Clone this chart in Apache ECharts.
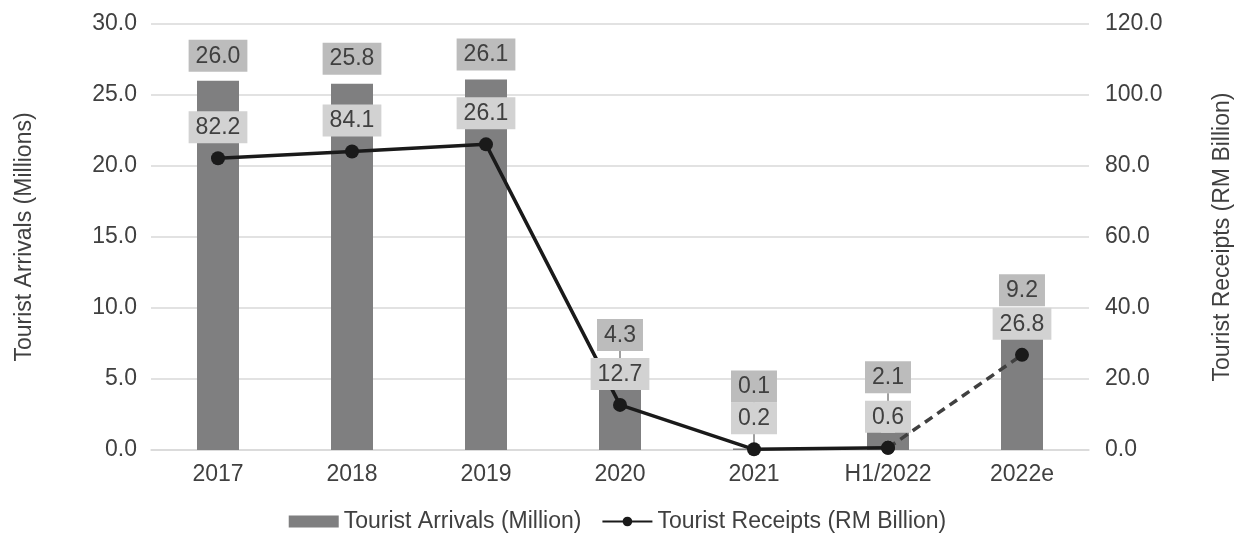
<!DOCTYPE html>
<html>
<head>
<meta charset="utf-8">
<script src="https://cdn.jsdelivr.net/npm/echarts@6/dist/echarts.min.js"></script>
<style>
html,body{margin:0;padding:0;background:#fff;}
#c{width:1235px;height:545px;}
</style>
</head>
<body>
<div id="c"></div>
<script>
var categories = ['2017', '2018', '2019', '2020', '2021', 'H1/2022', '2022e'];
var arrivals = [26.0, 25.8, 26.1, 4.3, 0.1, 2.1, 9.2];
var receipts = [82.2, 84.1, 86.1, 12.7, 0.2, 0.6, 26.8];
var receiptLabels = ['82.2', '84.1', '26.1', '12.7', '0.2', '0.6', '26.8'];
var leftTicks = [0, 5, 10, 15, 20, 25, 30];
var rightTicks = [0, 20, 40, 60, 80, 100, 120];

var FONT = '"Liberation Sans", Arial, sans-serif';
var TXT = '#404040';
var barLabelShift = [0, 0, 0, -29, -37, -18, -4];

var lastSolid = categories.length - 2;
var solidData = receipts.map(function (v, i) { return i <= lastSolid ? v : '-'; });
var dashData = receipts.map(function (v, i) { return i >= lastSolid ? v : '-'; });
var barData = arrivals.map(function (v, i) {
  return { value: v, labelLine: { show: barLabelShift[i] < -10 } };
});

var chart = echarts.init(document.getElementById('c'));
chart.setOption({
  animation: false,
  textStyle: { fontFamily: FONT },
  grid: { left: 151, right: 146, top: 24, bottom: 95, containLabel: false, outerBoundsMode: 'none' },
  legend: {
    top: 505,
    left: 'center',
    itemWidth: 50,
    itemHeight: 12,
    itemGap: 20,
    textStyle: { fontSize: 23, color: TXT, fontFamily: FONT },
    data: [
      { name: 'Tourist Arrivals (Million)', icon: 'rect' },
      { name: 'Tourist Receipts (RM Billion)' }
    ]
  },
  xAxis: {
    type: 'category',
    data: categories,
    axisTick: { show: false },
    axisLine: { lineStyle: { color: '#d9d9d9', width: 1.5 } },
    axisLabel: { fontSize: 23, color: TXT, margin: 13, fontFamily: FONT }
  },
  yAxis: [
    {
      type: 'value', min: leftTicks[0], max: leftTicks[leftTicks.length - 1], interval: 5,
      name: 'Tourist Arrivals (Millions)', nameLocation: 'middle', nameGap: 115,
      nameTextStyle: { fontSize: 23, color: TXT, fontFamily: FONT },
      axisLabel: { fontSize: 23, color: TXT, margin: 14, fontFamily: FONT,
        formatter: function (v) { return v.toFixed(1); } },
      splitLine: { lineStyle: { color: '#d9d9d9', width: 1.5 } },
      axisLine: { show: false }, axisTick: { show: false }
    },
    {
      type: 'value', min: rightTicks[0], max: rightTicks[rightTicks.length - 1], interval: 20,
      name: 'Tourist Receipts (RM Billion)', nameLocation: 'middle', nameGap: 122,
      nameTextStyle: { fontSize: 23, color: TXT, fontFamily: FONT },
      axisLabel: { fontSize: 23, color: TXT, margin: 16, fontFamily: FONT,
        formatter: function (v) { return v.toFixed(1); } },
      splitLine: { show: false },
      axisLine: { show: false }, axisTick: { show: false }
    }
  ],
  series: [
    {
      name: 'Tourist Arrivals (Million)',
      type: 'bar',
      data: barData,
      barWidth: 42,
      itemStyle: { color: '#7f7f80' },
      z: 1,
      label: {
        show: true, position: 'top', distance: 9,
        fontSize: 23, color: TXT, fontFamily: FONT,
        backgroundColor: '#bcbcbc', padding: [5, 7, 4, 7],
        formatter: function (p) { return p.value.toFixed(1); }
      },
      labelLine: { lineStyle: { color: '#404040', width: 1 } },
      labelLayout: function (p) { return { dy: barLabelShift[p.dataIndex] }; }
    },
    {
      name: 'Tourist Receipts (RM Billion)',
      type: 'line',
      yAxisIndex: 1,
      data: solidData,
      symbol: 'circle', symbolSize: 14,
      itemStyle: { color: '#1a1a1a' },
      lineStyle: { color: '#1a1a1a', width: 3.5 },
      z: 5,
      label: {
        show: true, position: 'top', distance: 8,
        fontSize: 23, color: TXT, fontFamily: FONT,
        backgroundColor: '#d2d2d2', padding: [5, 7, 4, 7],
        formatter: function (p) { return receiptLabels[p.dataIndex]; }
      }
    },
    {
      name: 'Tourist Receipts (RM Billion)',
      type: 'line',
      yAxisIndex: 1,
      data: dashData,
      symbol: 'circle', symbolSize: 14,
      itemStyle: { color: '#1a1a1a' },
      lineStyle: { color: '#404040', width: 3.5, type: [9, 6] },
      z: 4,
      label: {
        show: true, position: 'top', distance: 8,
        fontSize: 23, color: TXT, fontFamily: FONT,
        backgroundColor: '#d2d2d2', padding: [5, 7, 4, 7],
        formatter: function (p) { return p.dataIndex === categories.length - 1 ? receiptLabels[p.dataIndex] : ''; }
      }
    }
  ]
});
</script>
</body>
</html>
